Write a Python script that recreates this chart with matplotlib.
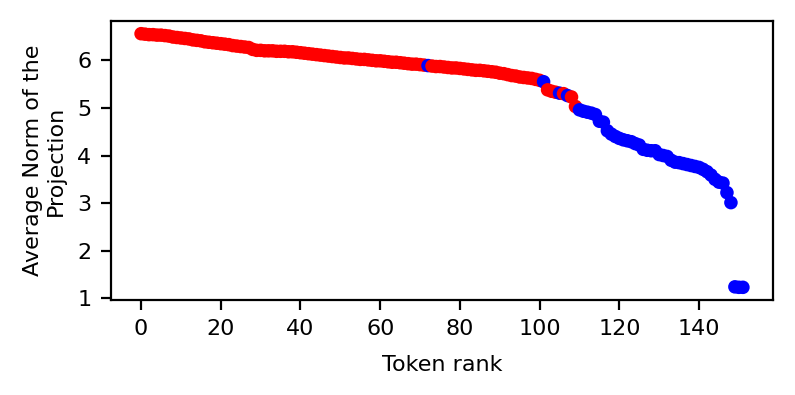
import numpy as np
import matplotlib
matplotlib.use("Agg")
from matplotlib import pyplot as plt

plt.rcParams['font.size'] = 8

# average projection norm per token, sorted by rank
norms = [6.56, 6.55, 6.54, 6.54, 6.53, 6.53, 6.52, 6.51, 6.49, 6.48,
         6.47, 6.46, 6.45, 6.43, 6.42, 6.41, 6.39, 6.38, 6.37, 6.36,
         6.35, 6.34, 6.33, 6.31, 6.30, 6.29, 6.28, 6.27, 6.23, 6.21,
         6.21, 6.20, 6.20, 6.20, 6.19, 6.19, 6.19, 6.18, 6.18, 6.17,
         6.16, 6.15, 6.14, 6.13, 6.12, 6.11, 6.10, 6.09, 6.08, 6.07,
         6.06, 6.05, 6.05, 6.04, 6.03, 6.02, 6.02, 6.01, 6.00, 5.99,
         5.99, 5.98, 5.97, 5.96, 5.96, 5.95, 5.94, 5.93, 5.92, 5.92,
         5.91, 5.90, 5.89, 5.88, 5.87, 5.87, 5.86, 5.85, 5.84, 5.84,
         5.83, 5.82, 5.81, 5.80, 5.79, 5.79, 5.78, 5.77, 5.76, 5.75,
         5.73, 5.72, 5.70, 5.68, 5.67, 5.65, 5.64, 5.63, 5.62, 5.60,
         5.58, 5.55, 5.38, 5.35, 5.33, 5.31, 5.30, 5.26, 5.23, 5.03,
         4.96, 4.93, 4.91, 4.89, 4.86, 4.72, 4.70, 4.52, 4.45, 4.40,
         4.36, 4.33, 4.31, 4.29, 4.25, 4.22, 4.13, 4.11, 4.10, 4.10,
         4.02, 4.00, 3.98, 3.90, 3.86, 3.85, 3.83, 3.81, 3.79, 3.77,
         3.75, 3.71, 3.66, 3.59, 3.50, 3.44, 3.42, 3.22, 3.01, 1.24,
         1.23, 1.23]

# ranks drawn in blue, the rest red
blue_ranks = [72, 101, 105, 107] + list(range(110, 152))

ranks = np.arange(len(norms))
colors = ['blue' if r in blue_ranks else 'red' for r in ranks]

fig = plt.figure(figsize=(3.975, 1.975), dpi=200)
ax = fig.add_subplot(111)
fig.subplots_adjust(left=0.1396, right=0.9723, top=0.9468, bottom=0.2405)

ax.scatter(ranks, norms, c=colors, s=15)
ax.set_xlabel("Token rank", labelpad=5.5)
ax.set_ylabel("Average Norm of the\nProjection")

plt.savefig("out.png", dpi=200)
